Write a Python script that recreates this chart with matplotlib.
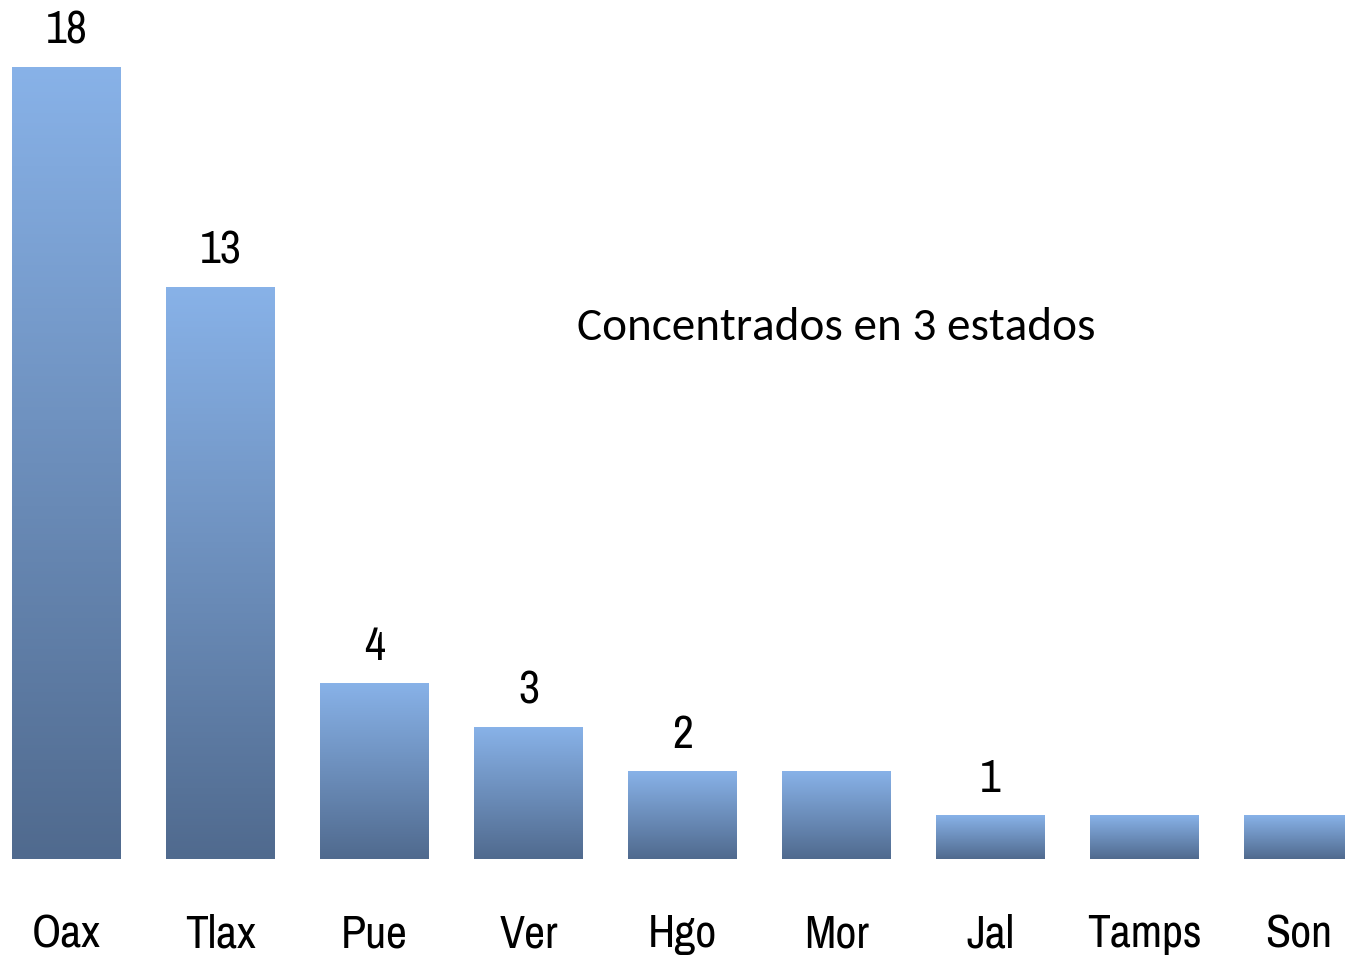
import numpy as np
import matplotlib
matplotlib.use("Agg")
import matplotlib.pyplot as plt
from matplotlib.colors import LinearSegmentedColormap

estados = ["Oax", "Tlax", "Pue", "Ver", "Hgo", "Mor", "Jal", "Tamps", "Son"]
valores = [18, 13, 4, 3, 2, 2, 1, 1, 1]
etiquetas = ["18", "13", "4", "3", "2", "", "1", "", ""]

narrow = ["Archivo Narrow", "DejaVu Sans"]

fig = plt.figure(figsize=(13.45, 9.59), dpi=100)
ax = fig.add_axes([0, 100 / 959, 1, 859 / 959])

x = np.arange(len(estados))
bars = ax.bar(x, valores, width=109 / 154, color="none", edgecolor="none")

# gradient fill, light on top, dark at the bottom of each bar
cmap = LinearSegmentedColormap.from_list("azul", ["#506A8E", "#88B2E8"])
grad = np.tile(np.linspace(0, 1, 512).reshape(-1, 1), (1, 2))
for b in bars:
    x0, y0 = b.get_x(), b.get_y()
    w, h = b.get_width(), b.get_height()
    ax.imshow(grad, cmap=cmap, origin="lower", aspect="auto",
              extent=[x0, x0 + w, y0, y0 + h], interpolation="nearest")

for b, t in zip(bars, etiquetas):
    if t:
        ax.annotate(t, (b.get_x() + b.get_width() / 2, b.get_height()),
                    xytext=(0, 11), textcoords="offset points",
                    ha="center", va="bottom", fontsize=33, family=narrow)

ax.text(836 / 1345, 1 - 327 / 859, "Concentrados en 3 estados",
        transform=ax.transAxes, ha="center", va="center",
        fontsize=34, family=["Carlito", "Lato", "DejaVu Sans"])

ax.set_xlim(-66.5 / 154, (1345 - 66.5) / 154)
ax.set_ylim(0, 859 / 44)
ax.set_xticks(x)
ax.set_xticklabels(estados, fontsize=33, family=narrow)
ax.tick_params(axis="x", length=0, pad=39)
ax.set_yticks([])
for s in ax.spines.values():
    s.set_visible(False)

fig.savefig("out.png", dpi=100)
